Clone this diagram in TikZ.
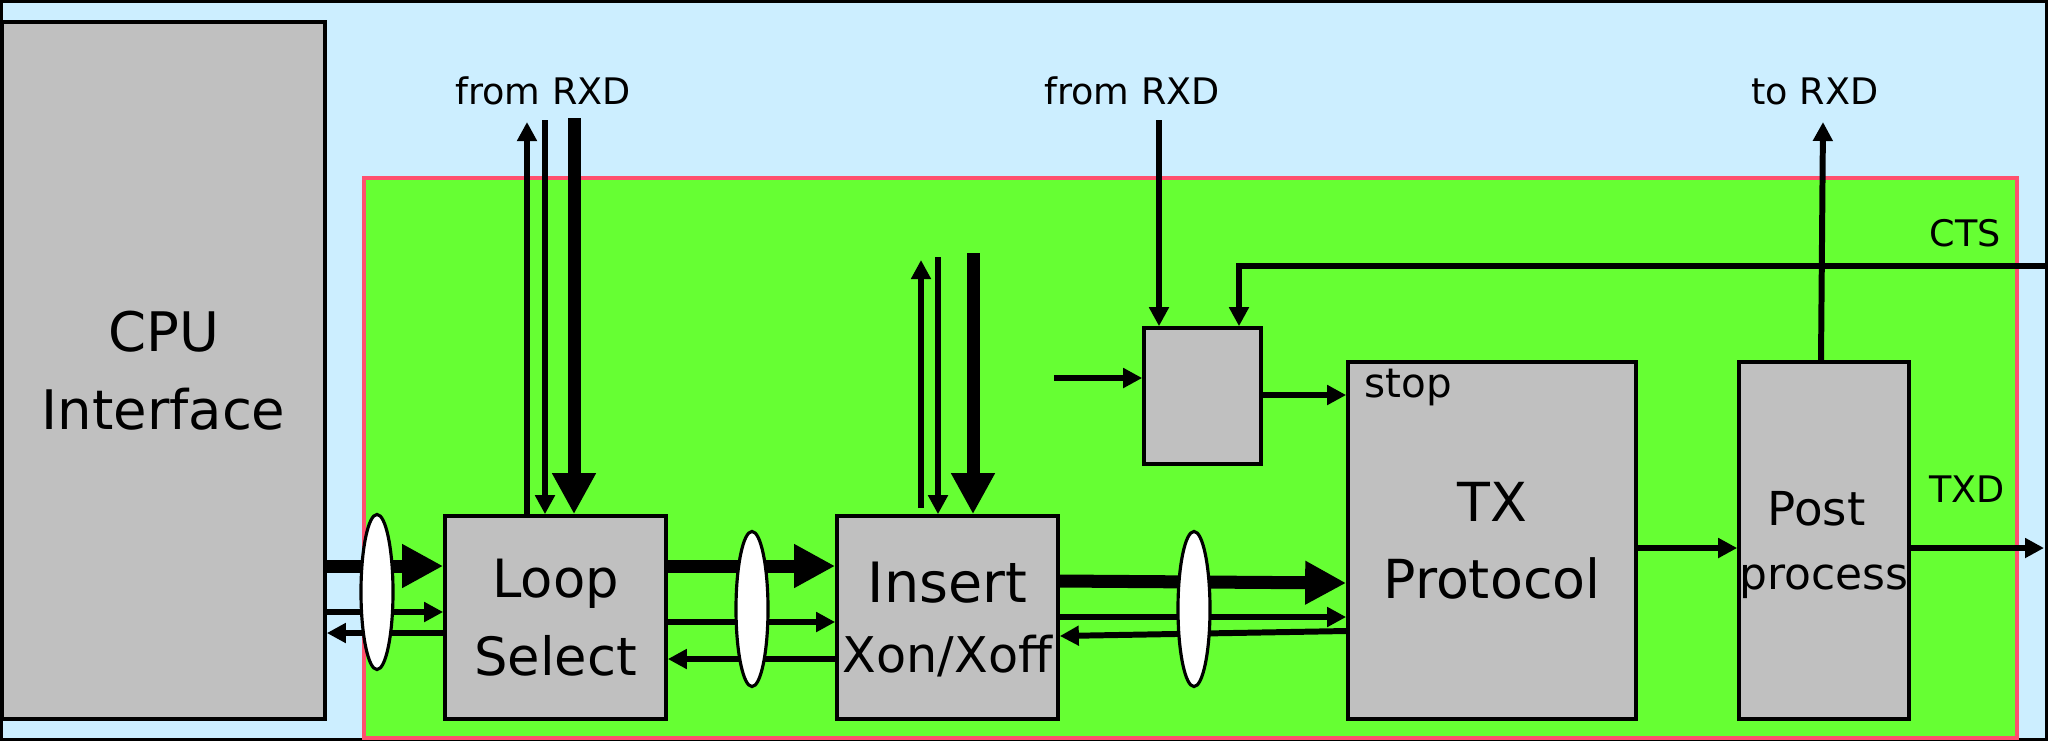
\documentclass[tikz,border=0pt]{standalone}
\usepackage{fontspec}
\setmainfont{DejaVu Sans}
\usetikzlibrary{arrows.meta,shapes.geometric}
\definecolor{framebg}{RGB}{204,238,255}
\definecolor{corebg}{RGB}{102,255,51}
\definecolor{coreline}{RGB}{255,80,110}
\definecolor{blockbg}{RGB}{192,192,192}
\tikzset{
    block/.style={draw, line width=1pt, fill=blockbg, inner sep=0pt, align=center, font=\fontsize{15}{22}\selectfont},
    tap/.style={draw, ellipse, line width=0.9pt, fill=white, inner sep=0pt, minimum width=3.2mm, minimum height=15.5mm},
    sigarrow/.style={-{Triangle[length=1.9mm, width=1.9mm]}, line width=1.7pt},
    busarrow/.style={-{Triangle[length=4.1mm, width=4.1mm]}, line width=3.7pt},
    siglabel/.style={inner sep=0pt, anchor=base, font=\fontsize{10.4}{12}\selectfont}
}
\begin{document}
\begin{tikzpicture}[x=0.01cm, y=-0.01cm]
    \useasboundingbox (0,0) rectangle (2048,741);
    \draw[fill=framebg, line width=0.9pt] (1.5,1.5) rectangle (2046.5,739.5);
    \draw[fill=corebg, draw=coreline, line width=0.9pt] (364,178) rectangle (2017,738);

    % blocks
    \node[block, minimum width=3.23cm, minimum height=6.97cm, font=\fontsize{15.5}{22}\selectfont] (cpu) at (163.5,370.5) {CPU\\Interface};
    \node[block, minimum width=2.21cm, minimum height=2.03cm] (loop) at (555.5,617.5) {Loop\\Select};
    \node[block, minimum width=2.21cm, minimum height=2.03cm, text depth=0pt, font=\fontsize{15.8}{22}\selectfont] (insert) at (947.5,617.5) {Insert\\[-2.1pt]{\fontsize{14}{16}\selectfont Xon/Xoff}};
    \node[block, minimum width=1.17cm, minimum height=1.36cm] (gate) at (1202.5,396) {};
    \node[block, minimum width=2.88cm, minimum height=3.57cm, font=\fontsize{15.3}{22}\selectfont] (tx) at (1492,540.5) {TX\\Protocol};
    \node[block, minimum width=1.70cm, minimum height=3.57cm, text depth=0pt, font=\fontsize{13.3}{18.2}\selectfont] (post) at (1824,540.5) {Post\hspace*{1.5mm}\\{\fontsize{12.5}{18.2}\selectfont process}};

    % CPU <-> loop select
    \draw[busarrow] (cpu.east |- 0,566) -- (loop.west |- 0,566);
    \draw[sigarrow] (cpu.east |- 0,612) -- (loop.west |- 0,612);
    \draw[sigarrow] (loop.west |- 0,633) -- (cpu.east |- 0,633);
    % loop select <-> insert
    \draw[busarrow] (loop.east |- 0,566) -- (insert.west |- 0,566);
    \draw[sigarrow] (loop.east |- 0,622) -- (insert.west |- 0,622);
    \draw[sigarrow] (insert.west |- 0,659) -- (loop.east |- 0,659);
    % insert <-> TX protocol
    \draw[busarrow] (insert.east |- 0,581) -- (tx.west |- 0,583);
    \draw[sigarrow] (insert.east |- 0,617) -- (tx.west |- 0,617);
    \draw[sigarrow] (tx.west |- 0,631) -- (insert.east |- 0,636);

    % RXD links
    \draw[sigarrow] (loop.north -| 527,0) -- (527,122);
    \draw[sigarrow] (545,120) -- (loop.north -| 545,0);
    \draw[busarrow] (574,118) -- (loop.north -| 574,0);
    \draw[sigarrow, shorten <=0.6mm] (insert.north -| 921,0) -- (921,260);
    \draw[sigarrow] (938,257) -- (insert.north -| 938,0);
    \draw[busarrow] (973,253) -- (insert.north -| 973,0);

    % stop logic
    \draw[sigarrow] (1159,120) -- (gate.north -| 1159,0);
    \draw[sigarrow, line width=1.45pt] (2048,266) -| (gate.north -| 1239,0);
    \draw[sigarrow] (1054,378) -- (gate.west |- 0,378);
    \draw[sigarrow] (gate.east |- 0,395) -- (tx.west |- 0,395);

    % output side
    \draw[sigarrow] (tx.east |- 0,548) -- (post.west |- 0,548);
    \draw[sigarrow] (post.east |- 0,548) -- (2044,548);
    \draw[sigarrow] (post.north -| 1821,0) -- (1823,122);

    % taps
    \node[tap] (tapA) at (377,592) {};
    \node[tap] (tapB) at (752,609) {};
    \node[tap] (tapC) at (1194,609) {};

    % labels
    \node[siglabel] (rxdloop) at (543,104) {from RXD};
    \node[siglabel] (rxdgate) at (1132,104) {from RXD};
    \node[siglabel] (rxdpost) at (1815,104) {to RXD};
    \node[siglabel] (cts) at (1965,246) {CTS};
    \node[siglabel] (txd) at (1967,502) {TXD};
    \node[siglabel, anchor=base west, font=\fontsize{11.5}{14}\selectfont] (stop) at (1364,397) {stop};
\end{tikzpicture}
\end{document}
